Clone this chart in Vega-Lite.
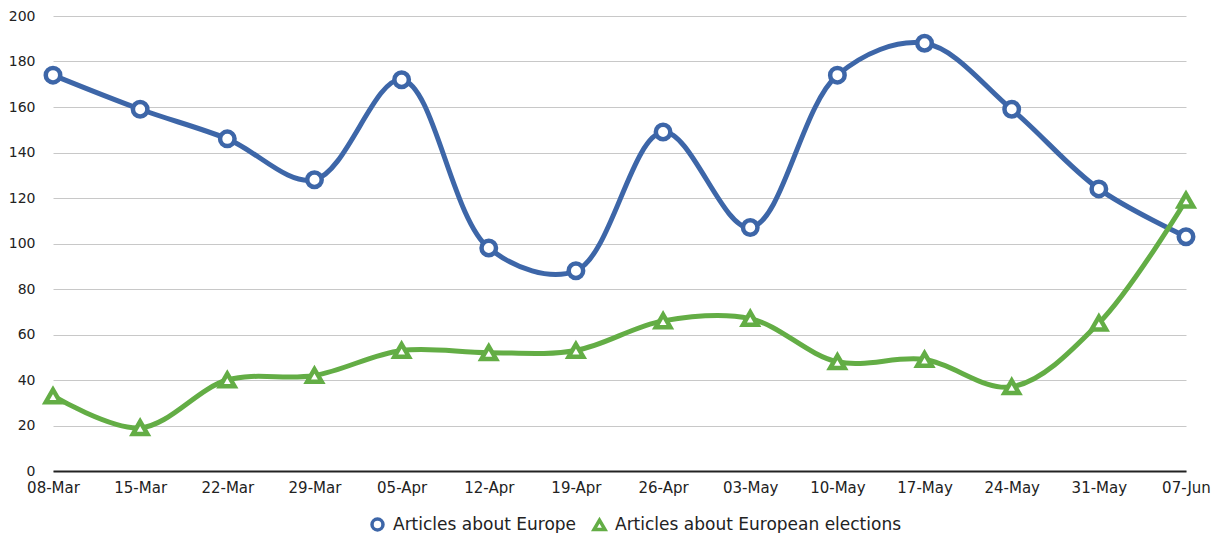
{
  "$schema": "https://vega.github.io/schema/vega-lite/v6.json",
  "width": 1133,
  "height": 455,
  "autosize": "none",
  "padding": {"left": 53, "top": 16, "right": 34, "bottom": 62},
  "background": "white",
  "config": {
    "font": "DejaVu Sans",
    "view": {"stroke": null}
  },
  "data": {
    "values": [
      {"date": "08-Mar", "series": "Articles about Europe", "value": 174},
      {"date": "15-Mar", "series": "Articles about Europe", "value": 159},
      {"date": "22-Mar", "series": "Articles about Europe", "value": 146},
      {"date": "29-Mar", "series": "Articles about Europe", "value": 128},
      {"date": "05-Apr", "series": "Articles about Europe", "value": 172},
      {"date": "12-Apr", "series": "Articles about Europe", "value": 98},
      {"date": "19-Apr", "series": "Articles about Europe", "value": 88},
      {"date": "26-Apr", "series": "Articles about Europe", "value": 149},
      {"date": "03-May", "series": "Articles about Europe", "value": 107},
      {"date": "10-May", "series": "Articles about Europe", "value": 174},
      {"date": "17-May", "series": "Articles about Europe", "value": 188},
      {"date": "24-May", "series": "Articles about Europe", "value": 159},
      {"date": "31-May", "series": "Articles about Europe", "value": 124},
      {"date": "07-Jun", "series": "Articles about Europe", "value": 103},
      {"date": "08-Mar", "series": "Articles about European elections", "value": 33},
      {"date": "15-Mar", "series": "Articles about European elections", "value": 19},
      {"date": "22-Mar", "series": "Articles about European elections", "value": 40},
      {"date": "29-Mar", "series": "Articles about European elections", "value": 42},
      {"date": "05-Apr", "series": "Articles about European elections", "value": 53},
      {"date": "12-Apr", "series": "Articles about European elections", "value": 52},
      {"date": "19-Apr", "series": "Articles about European elections", "value": 53},
      {"date": "26-Apr", "series": "Articles about European elections", "value": 66},
      {"date": "03-May", "series": "Articles about European elections", "value": 67},
      {"date": "10-May", "series": "Articles about European elections", "value": 48},
      {"date": "17-May", "series": "Articles about European elections", "value": 49},
      {"date": "24-May", "series": "Articles about European elections", "value": 37},
      {"date": "31-May", "series": "Articles about European elections", "value": 65},
      {"date": "07-Jun", "series": "Articles about European elections", "value": 119}
    ]
  },
  "encoding": {
    "x": {
      "field": "date",
      "type": "ordinal",
      "sort": null,
      "scale": {"type": "point", "padding": 0},
      "axis": {
        "title": null,
        "labelAngle": 0,
        "ticks": false,
        "domainColor": "#222222",
        "domainWidth": 2,
        "labelFontSize": 15,
        "labelColor": "#222222",
        "labelPadding": 9,
        "grid": false
      }
    },
    "y": {
      "field": "value",
      "type": "quantitative",
      "scale": {"domain": [0, 200], "nice": false},
      "axis": {
        "title": null,
        "values": [0, 20, 40, 60, 80, 100, 120, 140, 160, 180, 200],
        "ticks": false,
        "domain": false,
        "labelFontSize": 14,
        "labelColor": "#222222",
        "labelPadding": 18,
        "gridColor": "#c8c8c8",
        "gridWidth": 1
      }
    },
    "color": {
      "field": "series",
      "type": "nominal",
      "scale": {
        "domain": ["Articles about Europe", "Articles about European elections"],
        "range": ["#3d66a8", "#63ad45"]
      },
      "legend": {
        "title": null,
        "orient": "none",
        "direction": "horizontal",
        "legendX": 316,
        "legendY": 500,
        "labelFontSize": 17,
        "labelColor": "#222222",
        "labelLimit": 0,
        "symbolSize": 120,
        "symbolStrokeWidth": 3.5,
        "symbolFillColor": "white",
        "columnPadding": 10,
        "labelOffset": 7
      }
    }
  },
  "layer": [
    {
      "mark": {"type": "line", "interpolate": "catmull-rom", "strokeWidth": 5}
    },
    {
      "mark": {"type": "point", "filled": false, "fill": "white", "fillOpacity": 1, "opacity": 1, "strokeWidth": 4.5, "size": 210},
      "encoding": {
        "shape": {
          "field": "series",
          "type": "nominal",
          "scale": {
            "domain": ["Articles about Europe", "Articles about European elections"],
            "range": ["circle", "triangle-up"]
          },
          "legend": {
            "title": null,
            "orient": "none",
            "direction": "horizontal",
            "legendX": 316,
            "legendY": 500,
            "labelFontSize": 17,
            "labelColor": "#222222",
            "labelLimit": 0,
            "symbolSize": 120,
            "symbolStrokeWidth": 3.5,
            "symbolFillColor": "white",
            "columnPadding": 10,
            "labelOffset": 7
          }
        }
      }
    }
  ]
}
